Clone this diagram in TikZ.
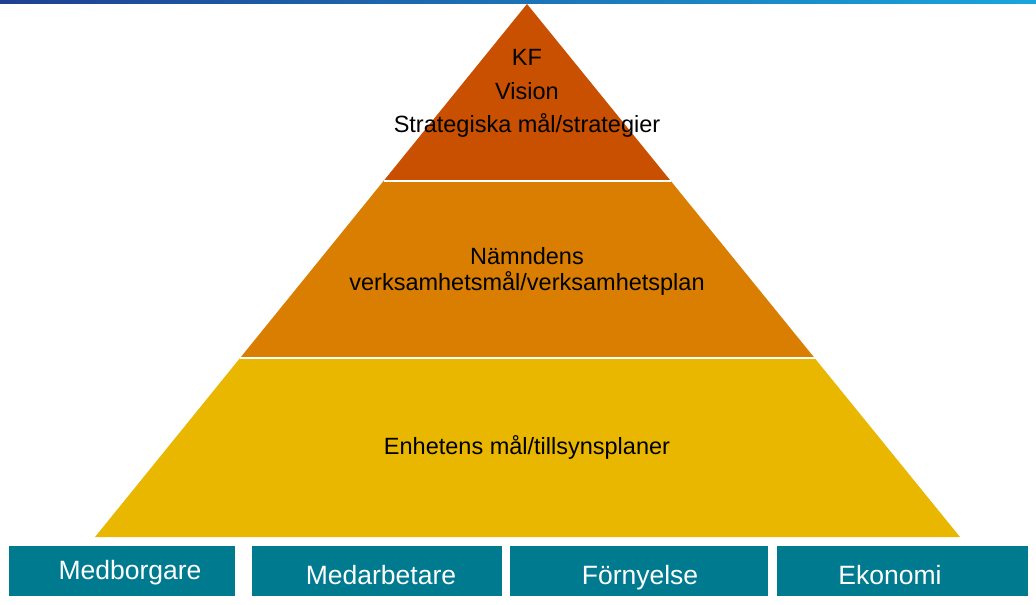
\documentclass[tikz,border=0pt]{standalone}
\usepackage{fontspec}
\setmainfont{Liberation Sans}
\usetikzlibrary{calc}

\definecolor{tiertop}{RGB}{200,80,0}
\definecolor{tiermid}{RGB}{217,126,0}
\definecolor{tierlow}{RGB}{234,183,0}
\definecolor{boxteal}{RGB}{0,122,143}
\definecolor{bardark}{RGB}{31,64,145}
\definecolor{barlight}{RGB}{25,165,220}

\tikzset{
	tiergap/.style={draw=white, line width=1.5pt},
	tiertext/.style={font=\fontsize{23.5}{26}\selectfont, text=black, inner sep=0pt, anchor=center},
	perspective/.style={fill=boxteal, draw=none, minimum height=50pt, inner sep=0pt},
	perspectivetext/.style={font=\fontsize{26.5}{30}\selectfont, text=white, inner sep=0pt, text height=19pt, text depth=5pt}
}

\begin{document}
\begin{tikzpicture}[x=1pt, y=-1pt]
		\useasboundingbox (0,0) rectangle (1036,605);
		\fill[white] (0,0) rectangle (1036,605);
		\shade[left color=bardark, right color=barlight] (0,0) rectangle (1036,3);
		
		\coordinate (apex) at (527,4);
		\coordinate (bl) at (95,537);
		\coordinate (br) at (960,537);
		\coordinate (l1) at ($(apex)!0.332!(bl)$);
		\coordinate (r1) at ($(apex)!0.332!(br)$);
		\coordinate (l2) at ($(apex)!0.664!(bl)$);
		\coordinate (r2) at ($(apex)!0.664!(br)$);
		
		\fill[tierlow] (l2) -- (r2) -- (br) -- (bl) -- cycle;
		\fill[tiermid] (l1) -- (r1) -- (r2) -- (l2) -- cycle;
		\fill[tiertop] (apex) -- (r1) -- (l1) -- cycle;
		\draw[tiergap] (l1) -- (r1);
		\draw[tiergap] (l2) -- (r2);
		
		\node[tiertext] (kf) at (527,57) {KF};
		\node[tiertext] (vision) at (527,91) {Vision};
		\node[tiertext] (strategi) at (527,125) {Strategiska mål/strategier};
		\node[tiertext, align=center] (namnd) at (527,271) {Nämndens\\verksamhetsmål/verksamhetsplan};
		\node[tiertext] (enhet) at (527,447) {Enhetens mål/tillsynsplaner};
		
		\node[perspective, minimum width=226pt] (box1) at (122,571) {};
		\node[perspective, minimum width=250pt] (box2) at (377,571) {};
		\node[perspective, minimum width=258pt] (box3) at (639,571) {};
		\node[perspective, minimum width=251pt] (box4) at (902.5,571) {};
		
		\node[perspectivetext] (medborgare) at (130,572) {Medborgare};
		\node[perspectivetext] (medarbetare) at (381,577) {Medarbetare};
		\node[perspectivetext] (fornyelse) at (640,577) {Förnyelse};
		\node[perspectivetext] (ekonomi) at (890,577) {Ekonomi};
	\end{tikzpicture}
\end{document}
